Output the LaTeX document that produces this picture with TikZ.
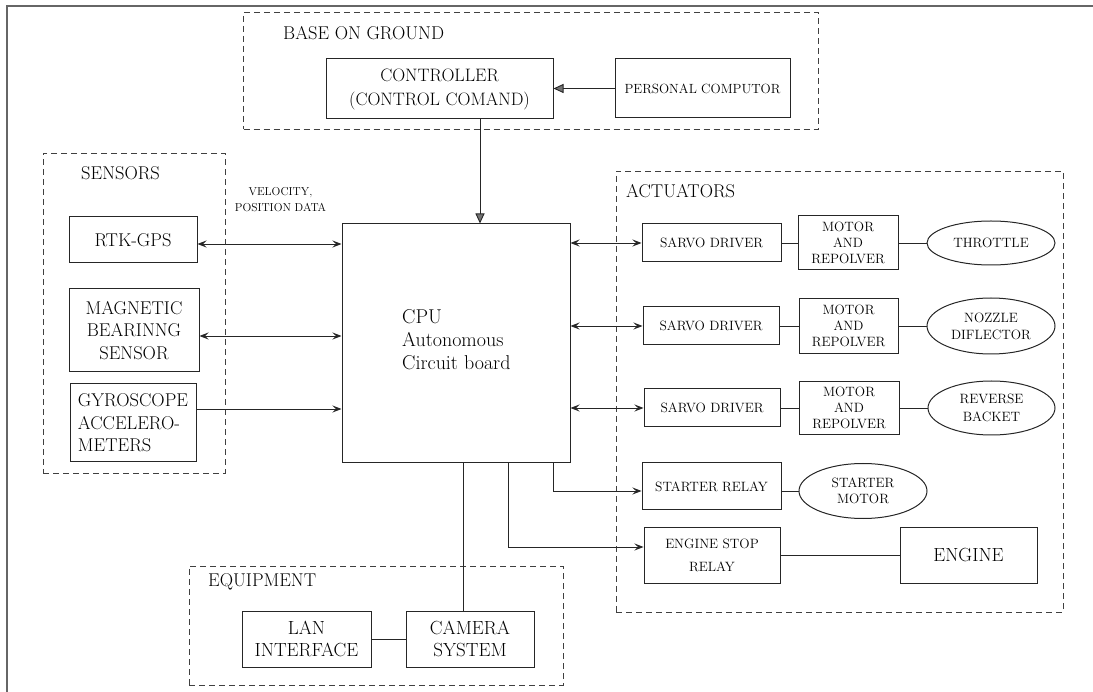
\documentclass[tikz,border=0pt]{standalone}
\usetikzlibrary{arrows.meta,shapes.geometric,calc}
\newcommand\setfs[2]{\fontsize{#1}{#2}\selectfont}
\begin{document}
\begin{tikzpicture}[x=1pt,y=-1pt,
  box/.style={draw=black!85,line width=1pt,inner sep=0pt,align=center},
  oval/.style={ellipse,draw=black!85,line width=1pt,inner sep=0pt,align=center},
  group/.style={draw=black!75,line width=0.9pt,dash pattern=on 6pt off 4pt,inner sep=0pt},
  title/.style={inner sep=0pt,anchor=base west,font=\setfs{18.5}{22}},
  big/.style={font=\setfs{18.5}{22.5}},
  small/.style={font=\setfs{13.5}{16}},
  link/.style={draw=black!85,line width=0.9pt},
  tip/.style={-{Stealth[length=9pt,width=7pt,inset=3.5pt]}},
  both/.style={{Stealth[length=9pt,width=7pt,inset=3.5pt]}-{Stealth[length=9pt,width=7pt,inset=3.5pt]}},
  head/.style={-{Triangle[length=10pt,width=9pt,fill=black!55]}},
]
\useasboundingbox (0,0) rectangle (1093,692);

% page frame
\draw[line width=1.5pt,black!60] (7,692) -- (7,6) -- (1093,6);

% groups
\node[group,minimum width=575pt,minimum height=116.5pt] (base) at (531,70.75) {};
\node[group,minimum width=182pt,minimum height=320pt] (sensors) at (134,313) {};
\node[group,minimum width=447pt,minimum height=441pt] (actuators) at (839.5,391.5) {};
\node[group,minimum width=374pt,minimum height=119pt] (equipment) at (376,625.5) {};

\node[title] (basetitle) at (283,39.5) {BASE ON GROUND};
\node[title] (senstitle) at (81,180) {SENSORS};
\node[title] (acttitle) at (626,198) {ACTUATORS};
\node[title] (equiptitle) at (208,586) {EQUIPMENT};

% base on ground
\node[box,font=\setfs{18}{24},minimum width=227pt,minimum height=60pt] (ctrl) at (439.5,89) {CONTROLLER\\(CONTROL COMAND)};
\node[box,font=\setfs{13.3}{16},minimum width=175pt,minimum height=59pt] (pc) at (702.5,88.5) {PERSONAL COMPUTOR};

% central processing unit
\node[box,minimum width=228pt,minimum height=239pt] (cpu) at (456,343.5) {};
\node[inner sep=0pt,anchor=west,align=left,font=\setfs{20}{22.7}] (cputext) at (402,339.5) {CPU\\Autonomous\\Circuit board};

% sensors
\node[box,big,minimum width=128pt,minimum height=46pt] (rtk) at (133,240) {RTK-GPS};
\node[box,big,minimum width=130pt,minimum height=83pt] (mag) at (134,330.5) {MAGNETIC\\BEARINNG\\SENSOR};
\node[box,big,align=left,minimum width=126pt,minimum height=78pt] (gyro) at (133,423) {GYROSCOPE\\ACCELERO-\\METERS};
\node[inner sep=0pt,align=center,font=\setfs{11.5}{16}] (vellabel) at (280.5,199.7) {VELOCITY,\\POSITION DATA};

% actuators
\node[box,small,minimum width=139pt,minimum height=38pt] (sd1) at (711.5,243) {SARVO DRIVER};
\node[box,small,minimum width=100pt,minimum height=54pt] (m1) at (848,243) {MOTOR\\AND\\REPOLVER};
\node[oval,small,minimum width=128pt,minimum height=44pt] (e1) at (991,243) {THROTTLE};

\node[box,small,minimum width=136pt,minimum height=38pt] (sd2) at (711,326) {SARVO DRIVER};
\node[box,small,minimum width=99pt,minimum height=55pt] (m2) at (848.5,326) {MOTOR\\AND\\REPOLVER};
\node[oval,font=\setfs{13.5}{17},minimum width=128pt,minimum height=56pt] (e2) at (991,326) {NOZZLE\\DIFLECTOR};

\node[box,small,minimum width=136pt,minimum height=38pt] (sd3) at (712,408) {SARVO DRIVER};
\node[box,small,minimum width=100pt,minimum height=53pt] (m3) at (849,408) {MOTOR\\AND\\REPOLVER};
\node[oval,font=\setfs{13.5}{18},minimum width=127pt,minimum height=54pt] (e3) at (991.5,408) {REVERSE\\BACKET};

\node[box,small,minimum width=139pt,minimum height=47pt] (sr) at (711.5,486.5) {STARTER RELAY};
\node[oval,font=\setfs{13.5}{15.5},minimum width=128pt,minimum height=55pt] (sm) at (863,491) {STARTER\\MOTOR};

\node[box,font=\setfs{13.5}{23},minimum width=136pt,minimum height=56pt] (esr) at (712,555.5) {ENGINE STOP\\RELAY};
\node[box,font=\setfs{19}{22},minimum width=137pt,minimum height=56pt] (engine) at (968.5,555.5) {ENGINE};

% equipment
\node[box,font=\setfs{19}{21.5},minimum width=129pt,minimum height=56pt] (lan) at (306.5,639) {LAN\\INTERFACE};
\node[box,font=\setfs{19}{21.5},minimum width=128pt,minimum height=56pt] (cam) at (470,639) {CAMERA\\SYSTEM};

% connectors: ground station
\draw[link,head] (pc.west) -- (pc.west -| ctrl.east);
\draw[link,head] ([xshift=40.5pt]ctrl.south) -- ([xshift=40.5pt]ctrl.south |- cpu.north);

% connectors: sensors
\draw[link,both] ([yshift=-4pt]rtk.east) -- ([yshift=-4pt]rtk.east -| cpu.west);
\draw[link,both] ([yshift=-5.5pt]mag.east) -- ([yshift=-5.5pt]mag.east -| cpu.west);
\draw[link,tip] ([yshift=14pt]gyro.east) -- ([yshift=14pt]gyro.east -| cpu.west);

% connectors: actuators
\draw[link,both] (sd1.west -| cpu.east) -- (sd1.west);
\draw[link,both] (sd2.west -| cpu.east) -- (sd2.west);
\draw[link,both] (sd3.west -| cpu.east) -- (sd3.west);
\draw[link] (sd1.east) -- (m1.west);
\draw[link] (m1.east) -- (e1.west);
\draw[link] (sd2.east) -- (m2.west);
\draw[link] (m2.east) -- (e2.west);
\draw[link] (sd3.east) -- (m3.west);
\draw[link] (m3.east) -- (e3.west);
\draw[link,tip] ([xshift=97pt]cpu.south) |- ([yshift=-4.5pt]sr.west);
\draw[link] ([yshift=-4.5pt]sr.east) -- ([yshift=-4.5pt]sr.east -| sm.west);
\draw[link,tip] ([xshift=52pt]cpu.south) |- ([yshift=8.5pt]esr.west);
\draw[link] (esr.east) -- (engine.west);

% connectors: equipment
\draw[link] ([xshift=-7pt]cam.north) -- ([xshift=-7pt]cam.north |- cpu.south);
\draw[link] (lan.east) -- (cam.west);
\end{tikzpicture}
\end{document}
